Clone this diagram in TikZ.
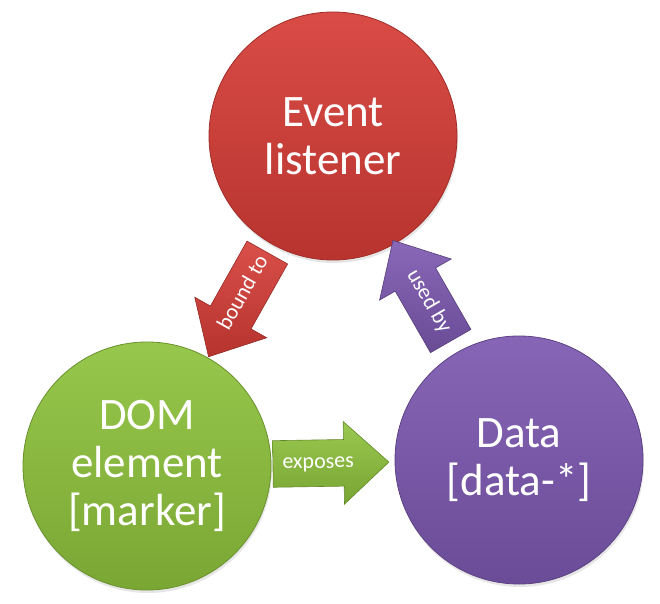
\documentclass[tikz,border=0pt]{standalone}
\usepackage{fontspec}
\setmainfont{Carlito}
\usetikzlibrary{shapes.arrows,shadows}

\definecolor{evred}{RGB}{214,60,54}
\definecolor{domgreen}{RGB}{142,194,60}
\definecolor{datapurple}{RGB}{124,88,176}

\begin{document}
\begin{tikzpicture}[x=1pt, y=1pt,
    bubble/.style={circle, minimum size=248pt, inner sep=0pt, align=center,
        text=white, font=\fontsize{45}{48}\selectfont,
        draw=#1!75!black, line width=0.8pt,
        top color=#1!92!white, bottom color=#1!86!black,
        drop shadow={opacity=0.2, shadow xshift=1pt, shadow yshift=-3pt}},
    link/.style={single arrow, sloped, anchor=tail, minimum height=116pt,
        single arrow head extend=18pt, single arrow tip angle=85,
        text height=15pt, text depth=5pt, inner ysep=13pt, inner xsep=6pt,
        text=white, font=\fontsize{22}{24}\selectfont,
        draw=#1!70!black, line width=0.6pt,
        top color=#1!90!white, bottom color=#1!85!black}]
    \useasboundingbox (0,0) rectangle (660,603);

    % 三个圆
    \node[bubble=evred] (ev) at (333,467) {Event\\listener};
    \node[bubble=domgreen] (dom) at (147,137) {DOM\\element\\{[marker]}};
    \node[bubble=datapurple] (data) at (519,143) {Data\\{[data-*]}};

    % 箭头
    \path (ev) -- node[link=evred, pos=0.07, shape border rotate=180] {bound to} (dom);
    \path (dom) -- node[link=domgreen, pos=0.01] {exposes} (data);
    \path (data) -- node[link=datapurple, pos=0.1, shape border rotate=180] {used by} (ev);
\end{tikzpicture}
\end{document}
